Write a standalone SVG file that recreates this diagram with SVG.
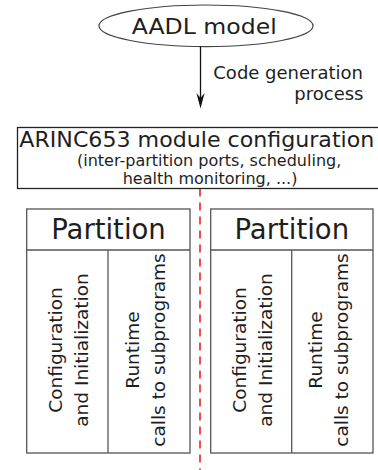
<svg xmlns="http://www.w3.org/2000/svg" width="378" height="470" viewBox="0 0 378 470">
<style>
text{font-family:"DejaVu Sans","Liberation Sans",sans-serif;fill:#1e1e1e}
.box{fill:#fff;stroke:#555;stroke-width:1.3}
.rot{font-size:18.5px;text-anchor:middle}
.pt{font-size:27.5px;text-anchor:middle}
</style>
<rect width="378" height="470" fill="#fff"/>
<g id="aadl">
<ellipse cx="206" cy="25.8" rx="107" ry="20.8" fill="#fff" stroke="#444" stroke-width="1.2"/>
<text x="131.7" y="34.3" font-size="21.5" textLength="145" lengthAdjust="spacingAndGlyphs">AADL model</text>
</g>
<g id="connectors">
<line x1="200.5" y1="46.6" x2="200.5" y2="104" stroke="#111" stroke-width="1.3"/>
<path d="M200.5,108.5 L204.6,93 L200.5,98 L196.4,93 Z" fill="#111"/>
<text x="213.3" y="78.5" font-size="18">Code generation</text>
<text x="363.5" y="100" font-size="18" text-anchor="end">process</text>
<line x1="200" y1="188.5" x2="200" y2="470" stroke="#e8141c" stroke-width="1.5" stroke-dasharray="8,6"/>
</g>
<g id="arinc">
<rect x="17.5" y="127.5" width="364" height="61" fill="#fff" stroke="#222" stroke-width="1.3"/>
<text x="19.3" y="147" font-size="20.5" textLength="355" lengthAdjust="spacingAndGlyphs">ARINC653 module configuration</text>
<text x="77" y="165.5" font-size="16">(inter-partition ports, scheduling,</text>
<text x="122.7" y="184.3" font-size="16">health monitoring, ...)</text>
</g>
<g id="partition1">
<rect class="box" x="26.7" y="209" width="163.3" height="244"/>
<line x1="26.7" y1="250" x2="190" y2="250" stroke="#555" stroke-width="1.3"/>
<line x1="108" y1="250" x2="108" y2="453" stroke="#555" stroke-width="1.3"/>
<text class="pt" x="108.5" y="239.3">Partition</text>
<text class="rot" transform="translate(62.3,350) rotate(-90)">Configuration</text>
<text class="rot" transform="translate(87.8,350) rotate(-90)">and Initialization</text>
<text class="rot" transform="translate(139,350) rotate(-90)">Runtime</text>
<text class="rot" transform="translate(164.5,350) rotate(-90)">calls to subprograms</text>
</g>
<g id="partition2">
<rect class="box" x="210.7" y="209" width="162.3" height="244"/>
<line x1="210.7" y1="250" x2="373" y2="250" stroke="#555" stroke-width="1.3"/>
<line x1="291.7" y1="250" x2="291.7" y2="453" stroke="#555" stroke-width="1.3"/>
<text class="pt" x="291.8" y="239.3">Partition</text>
<text class="rot" transform="translate(246.2,350) rotate(-90)">Configuration</text>
<text class="rot" transform="translate(271.7,350) rotate(-90)">and Initialization</text>
<text class="rot" transform="translate(322.3,350) rotate(-90)">Runtime</text>
<text class="rot" transform="translate(347.8,350) rotate(-90)">calls to subprograms</text>
</g>
</svg>
